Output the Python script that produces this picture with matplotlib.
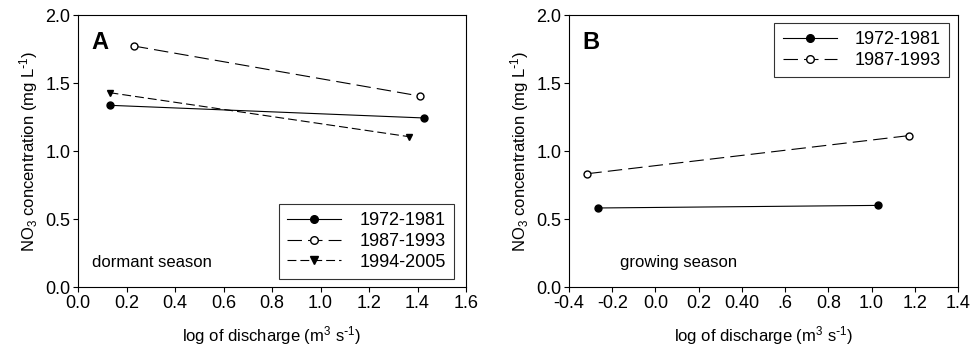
import matplotlib
matplotlib.use("Agg")
import matplotlib.pyplot as plt

plt.rcParams['font.family'] = ['Liberation Sans', 'DejaVu Sans']
plt.rcParams['mathtext.default'] = 'regular'
plt.rcParams['font.size'] = 13

# panel A - dormant season
a_labels = ["1972-1981", "1987-1993", "1994-2005"]
a_x = [[0.13, 1.425], [0.23, 1.41], [0.13, 1.366]]
a_y = [[1.336, 1.243], [1.772, 1.404], [1.429, 1.105]]

# panel B - growing season
b_labels = ["1972-1981", "1987-1993"]
b_x = [[-0.267, 1.030], [-0.315, 1.172]]
b_y = [[0.581, 0.600], [0.833, 1.113]]

a_xticks = [0.0, 0.2, 0.4, 0.6, 0.8, 1.0, 1.2, 1.4, 1.6]
a_xticklabels = ["0.0", "0.2", "0.4", "0.6", "0.8", "1.0", "1.2", "1.4", "1.6"]
b_xticks = [-0.4, -0.2, 0.0, 0.2, 0.4, 0.6, 0.8, 1.0, 1.2, 1.4]
b_xticklabels = ["-0.4", "-0.2", "0.0", "0.2", "0.40", ".6", "0.8", "1.0", "1.2", "1.4"]
yticks = [0.0, 0.5, 1.0, 1.5, 2.0]

styles = [
    dict(color='black', linestyle='-', marker='o', markerfacecolor='black'),
    dict(color='black', linestyle=(0, (13, 5.5)), marker='o', markerfacecolor='white'),
    dict(color='black', linestyle=(0, (8, 3.6)), marker='v', markerfacecolor='black'),
]

fig = plt.figure(figsize=(9.71, 3.47), dpi=100)
ax1 = fig.add_axes([78 / 971, 1 - 287 / 347, 388 / 971, 272 / 347])
ax2 = fig.add_axes([569 / 971, 1 - 287 / 347, 389 / 971, 272 / 347])


def setup(ax, xlim, xticks, xticklabels, letter, season, sx):
    ax.set_xlim(*xlim)
    ax.set_ylim(0, 2.0)
    ax.set_xticks(xticks)
    ax.set_xticklabels(xticklabels)
    ax.set_yticks(yticks)
    ax.set_yticklabels(["%.1f" % v for v in yticks])
    ax.tick_params(direction='out', length=3.5, width=0.8, top=False, right=False,
                   pad=2, labelsize=13)
    for s in ax.spines.values():
        s.set_linewidth(0.8)
    ax.set_xlabel(r"log of discharge (m$^3$ s$^{\text{-}1}$)", labelpad=9, fontsize=12)
    ax.set_ylabel(r"NO$_3$ concentration (mg L$^{\text{-}1}$)", labelpad=4, fontsize=12)
    ax.text(0.035, 0.90, letter, transform=ax.transAxes, fontsize=17,
            fontweight='bold', va='center', ha='left')
    ax.text(sx, 0.09, season, transform=ax.transAxes, va='center', ha='left',
            fontsize=12)


def add_legend(ax, loc, anchor):
    leg = ax.legend(loc=loc, bbox_to_anchor=anchor, frameon=True, fancybox=False,
                    edgecolor='black', handlelength=3.0, handletextpad=1.0,
                    borderpad=0.45, labelspacing=0.2, borderaxespad=0,
                    fontsize=13, markerscale=1.1)
    leg.get_frame().set_linewidth(0.8)


for i, lab in enumerate(a_labels):
    ax1.plot(a_x[i], a_y[i], label=lab, linewidth=0.8, markersize=5, **styles[i])
setup(ax1, (0, 1.6), a_xticks, a_xticklabels, "A", "dormant season", 0.035)
add_legend(ax1, 'lower right', (0.969, 0.03))

for i, lab in enumerate(b_labels):
    ax2.plot(b_x[i], b_y[i], label=lab, linewidth=0.8, markersize=5, **styles[i])
setup(ax2, (-0.4, 1.4), b_xticks, b_xticklabels, "B", "growing season", 0.13)
add_legend(ax2, 'upper right', (0.977, 0.97))

fig.savefig("out.png", dpi=100)
